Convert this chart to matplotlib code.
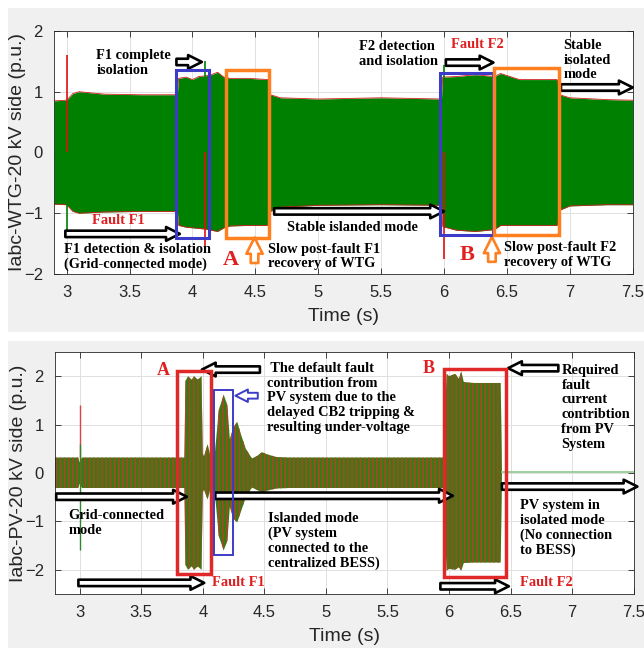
import matplotlib
matplotlib.use("Agg")
import matplotlib.pyplot as plt
from matplotlib.patches import Rectangle

plt.rcParams["font.family"] = ["Liberation Sans", "DejaVu Sans"]
plt.rcParams["hatch.linewidth"] = 1.0
SERIF = ["Liberation Serif", "DejaVu Serif"]

# --- top panel: envelope of the WTG phase currents (p.u.)
wtg_t = [2.9, 3.0, 3.05, 3.1, 3.3, 3.6, 3.88, 3.89, 3.95, 4.0, 4.05, 4.1, 4.15, 4.2,
         4.25, 4.3, 4.45, 4.6, 4.62, 4.7, 5.0, 5.5, 5.98, 5.99, 6.1, 6.25, 6.4, 6.45,
         6.6, 6.9, 6.92, 7.0, 7.3, 7.5]
wtg_hi = [0.85, 0.86, 0.97, 1.0, 0.96, 0.95, 0.95, 1.22, 1.24, 1.2, 1.25, 1.26, 1.28, 1.32,
          1.24, 1.22, 1.22, 1.2, 0.95, 0.9, 0.88, 0.9, 0.88, 1.24, 1.25, 1.28, 1.25, 1.3,
          1.2, 1.2, 0.95, 0.9, 0.87, 0.86]
wtg_lo = [-0.85, -0.86, -0.97, -1.0, -0.98, -0.97, -0.97, -1.2, -1.23, -1.24, -1.25, -1.26, -1.28, -1.3,
          -1.24, -1.21, -1.2, -1.2, -0.97, -0.9, -0.87, -0.86, -0.87, -1.22, -1.28, -1.3, -1.27, -1.2,
          -1.2, -1.2, -0.95, -0.88, -0.86, -0.86]
wtg_red_t = [3.0, 4.1, 6.0]
wtg_red_lo = [0.0, -1.62, -1.75]
wtg_red_hi = [1.6, 0.0, 0.0]
wtg_green_t = [3.0, 4.1, 6.0]
wtg_green_lo = [-1.28, 0.0, 0.0]
wtg_green_hi = [0.0, 1.5, 1.44]

# --- bottom panel: envelope of the PV phase currents (p.u.)
pv_t = [2.8, 2.99, 3.0, 3.02, 3.85, 3.86, 3.88, 3.91, 3.93, 3.96, 3.99, 4.0, 4.01, 4.04,
        4.07, 4.1, 4.13, 4.17, 4.2, 4.22, 4.25, 4.28, 4.31, 4.35, 4.4, 4.44, 4.48, 4.53,
        4.6, 4.7, 5.5, 5.95, 5.96, 5.98, 6.0, 6.05, 6.08, 6.1, 6.12, 6.2, 6.42, 6.43]
pv_hi = [0.32, 0.32, 0.22, 0.32, 0.32, 1.9, 2.0, 1.93, 2.0, 1.93, 2.0, 0.4, 0.35, 0.6,
         0.25, 0.45, 1.3, 1.62, 1.4, 0.7, 0.95, 1.06, 0.8, 0.5, 0.3, 0.35, 0.43, 0.38,
         0.33, 0.32, 0.32, 0.32, 0.6, 2.05, 2.0, 2.05, 1.95, 2.1, 1.88, 1.86, 1.86, 0.0]
pv_lo = [-0.31, -0.31, -0.22, -0.31, -0.31, -1.9, -2.0, -1.93, -2.0, -1.93, -2.0, -0.4, -0.35, -0.55,
         -0.25, -0.45, -1.3, -1.6, -1.4, -0.7, -0.95, -1.02, -0.8, -0.5, -0.3, -0.35, -0.4, -0.36,
         -0.32, -0.31, -0.31, -0.31, -0.6, -2.02, -1.98, -2.0, -1.95, -2.02, -1.86, -1.85, -1.85, 0.0]
pv_tail_t = [6.43, 7.5]
pv_tail = [0.02, 0.02]
pv_red_t = [3.0]
pv_red_lo = [0.3]
pv_red_hi = [1.4]
pv_green_t = [3.0]
pv_green_lo = [-1.6]
pv_green_hi = [0.6]

time_ticks = [3, 3.5, 4, 4.5, 5, 5.5, 6, 6.5, 7, 7.5]
time_labels = ["3", "3.5", "4", "4.5", "5", "5.5", "6", "6.5", "7", "7.5"]
y_ticks = [-2, -1, 0, 1, 2]


def block_arrow(ax, tail, tip, ec="black", lw=1.9, scale=11):
    ax.annotate("", xy=tip, xytext=tail,
                arrowprops=dict(arrowstyle="simple,head_length=0.9,head_width=0.9,tail_width=0.42",
                                fc="white", ec=ec, lw=lw, mutation_scale=scale,
                                shrinkA=0, shrinkB=0),
                annotation_clip=False)


def note(ax, x, y, s, color="black", size=10.4, ha="left", **kw):
    ax.text(x, y, s, color=color, fontsize=size, fontweight="bold", family=SERIF,
            ha=ha, va="center", linespacing=1.17, **kw)


def box(ax, x0, x1, y0, y1, color, lw):
    ax.add_patch(Rectangle((x0, y0), x1 - x0, y1 - y0, fill=False, ec=color, lw=lw, zorder=5))


def style_axes(ax, xlim, ylim, ylabel):
    ax.set_xlim(*xlim)
    ax.set_ylim(*ylim)
    ax.set_xticks(time_ticks)
    ax.set_xticklabels(time_labels)
    ax.set_yticks(y_ticks)
    ax.grid(True, color="#e0e0e0", lw=0.7)
    ax.set_axisbelow(True)
    ax.tick_params(direction="in", length=4, width=0.6, labelsize=12, colors="#262626",
                   top=True, right=True, pad=8)
    for sp in ax.spines.values():
        sp.set_color("#262626")
        sp.set_linewidth(0.6)
    ax.set_xlabel("Time (s)", fontsize=14, color="#262626", labelpad=6)
    ax.set_ylabel(ylabel, fontsize=14, color="#262626")
    ax.yaxis.set_label_coords(-0.049, 0.5)


fig = plt.figure(figsize=(6.44, 6.48), dpi=100)
fig.patches.append(Rectangle((0.0124, 0.4877), 0.9876, 0.5, transform=fig.transFigure,
                             fc="#f0f0f0", ec="none", zorder=-10))
fig.patches.append(Rectangle((0.0124, 0.0), 0.9876, 0.4738, transform=fig.transFigure,
                             fc="#f0f0f0", ec="none", zorder=-10))

# ------------------------------------------------------------- top panel
ax1 = fig.add_axes([0.0839, 0.5772, 0.8985, 0.375])
ax1.fill_between(wtg_t, wtg_lo, wtg_hi, color="#008000", lw=0, zorder=2)
ax1.plot(wtg_t, wtg_hi, color="#d02020", lw=0.6, zorder=2)
ax1.plot(wtg_t, wtg_lo, color="#d02020", lw=0.6, zorder=2)
ax1.vlines(wtg_red_t, wtg_red_lo, wtg_red_hi, color="#e01010", lw=1.2, zorder=3)
ax1.vlines(wtg_green_t, wtg_green_lo, wtg_green_hi, color="#008000", lw=1.2, zorder=3)
style_axes(ax1, (2.9, 7.5), (-2, 2), "Iabc-WTG-20 kV side (p.u.)")

box(ax1, 3.866, 4.131, -1.41, 1.36, "#3c3cc8", 2.2)
box(ax1, 4.267, 4.607, -1.41, 1.36, "#ff8020", 2.5)
box(ax1, 5.967, 6.392, -1.36, 1.30, "#3c3cc8", 2.2)
box(ax1, 6.394, 6.918, -1.36, 1.39, "#ff8020", 2.5)

block_arrow(ax1, (3.873, 1.49), (4.075, 1.49))
block_arrow(ax1, (2.99, -1.34), (3.90, -1.34))
block_arrow(ax1, (4.494, -1.82), (4.494, -1.40), ec="#ff8020", scale=13)
block_arrow(ax1, (4.65, -0.97), (6.0, -0.97))
block_arrow(ax1, (6.015, 1.48), (6.393, 1.48))
block_arrow(ax1, (6.93, 1.07), (7.5, 1.07))
block_arrow(ax1, (6.381, -1.80), (6.381, -1.39), ec="#ff8020", scale=13)

note(ax1, 3.237, 1.47, "F1 complete\nisolation")
note(ax1, 3.414, -1.12, "Fault F1", color="#e02020", ha="center")
note(ax1, 2.976, -1.715, "F1 detection & isolation\n(Grid-connected mode)")
note(ax1, 4.307, -1.77, "A", color="#e02020", size=16, ha="center")
note(ax1, 4.604, -1.71, "Slow post-fault F1\nrecovery of WTG")
note(ax1, 4.755, -1.24, "Stable islanded mode")
note(ax1, 5.324, 1.62, "F2 detection\nand isolation")
note(ax1, 6.054, 1.78, "Fault F2", color="#e02020")
note(ax1, 6.95, 1.52, "Stable\nisolated\nmode")
note(ax1, 6.185, -1.69, "B", color="#e02020", size=16, ha="center")
note(ax1, 6.48, -1.69, "Slow post-fault F2\nrecovery of WTG")

# ------------------------------------------------------------- bottom panel
ax2 = fig.add_axes([0.0854, 0.0833, 0.8986, 0.3735])
ax2.fill_between(pv_t, pv_lo, pv_hi, facecolor="#3a7a12", edgecolor="#b8402a",
                 hatch="||||", lw=0, zorder=2)
ax2.plot(pv_tail_t, pv_tail, color="#8cc88c", lw=1.2, zorder=2)
ax2.vlines(pv_red_t, pv_red_lo, pv_red_hi, color="#e04040", lw=1.0, zorder=3)
ax2.vlines(pv_green_t, pv_green_lo, pv_green_hi, color="#2a8a2a", lw=1.0, zorder=3)
style_axes(ax2, (2.8, 7.5), (-2.5, 2.5), "Iabc-PV-20 kV side (p.u.)")

box(ax2, 3.789, 4.067, -2.08, 2.10, "#e02828", 2.5)
box(ax2, 4.094, 4.243, -1.69, 1.72, "#3c3cc8", 1.4)
box(ax2, 5.96, 6.46, -2.15, 2.14, "#e02828", 2.5)

block_arrow(ax2, (4.464, 2.137), (3.993, 2.137))
block_arrow(ax2, (4.447, 1.597), (4.265, 1.597), ec="#3c3cc8", lw=1.4, scale=10)
block_arrow(ax2, (2.81, -0.49), (3.871, -0.49))
block_arrow(ax2, (4.102, -0.47), (6.031, -0.47))
block_arrow(ax2, (2.99, -2.27), (4.012, -2.27))
block_arrow(ax2, (6.888, 2.166), (6.48, 2.166))
block_arrow(ax2, (6.43, -0.28), (7.53, -0.28))
block_arrow(ax2, (5.93, -2.34), (6.486, -2.34))

note(ax2, 3.678, 2.12, "A", color="#e02020", size=13, ha="center")
note(ax2, 4.524, 1.554, " The default fault\ncontribution from\nPV system due to the\n"
     "delayed CB2 tripping &\nresulting under-voltage")
note(ax2, 5.837, 2.15, "B", color="#e02020", size=13, ha="center")
note(ax2, 6.913, 1.357, "Required\nfault\ncurrent\ncontribtion\nfrom PV\nSystem")
note(ax2, 2.91, -1.03, "Grid-connected\nmode")
note(ax2, 4.531, -1.41, "Islanded mode\n(PV system\nconnected to the\ncentralized BESS)")
note(ax2, 4.075, -2.27, "Fault F1", color="#e02020")
note(ax2, 6.58, -1.137, "PV system in\nisolated mode\n(No connection\nto BESS)")
note(ax2, 6.576, -2.27, "Fault F2", color="#e02020")

fig.savefig("out.png", dpi=100, facecolor="white")
